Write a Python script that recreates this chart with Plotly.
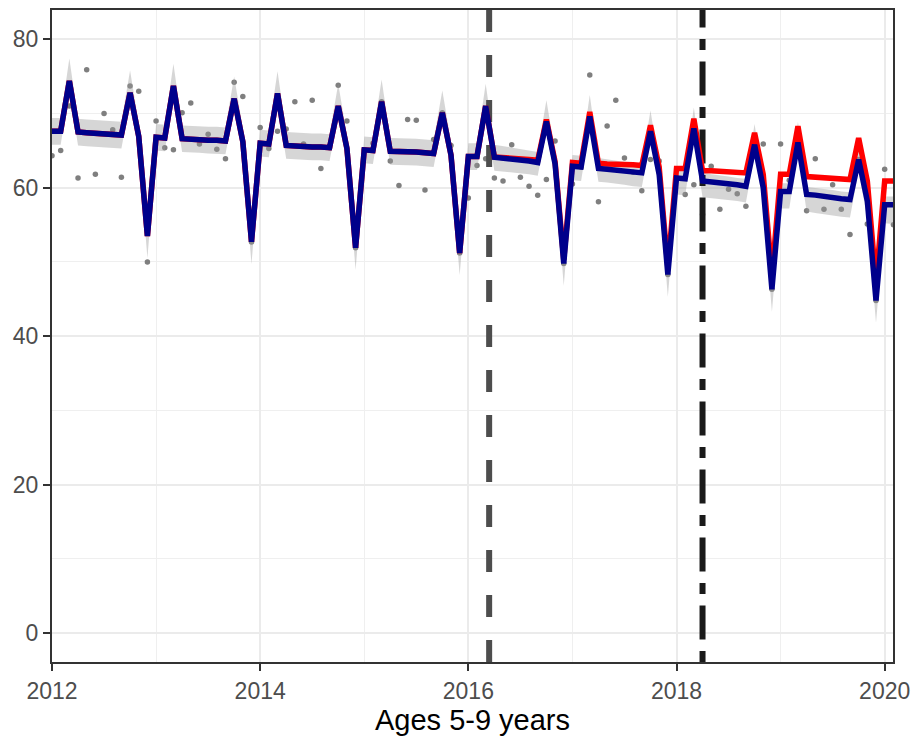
import plotly.graph_objects as go

# ---- data (monthly, Jan 2012 .. Feb 2020) ----
first_month = 2012.0

observed = [
    64.3, 65.0, 71.0, 61.3, 75.9, 61.8, 70.0, 67.8, 61.4, 73.7, 73.0, 50.0,
    69.0, 65.4, 65.1, 70.1, 71.4, 65.9, 67.2, 65.2, 63.9, 74.2, 72.3, 52.7,
    68.1, 65.3, 67.6, 67.9, 71.6, 65.9, 71.8, 62.6, 65.4, 73.8, 69.0, 51.9,
    65.1, 66.0, 71.6, 63.6, 60.3, 69.2, 69.1, 59.7, 66.5, 70.1, 65.7, 51.2,
    58.6, 63.0, 63.9, 61.3, 60.9, 65.8, 61.4, 60.2, 59.0, 61.1, 66.3, 49.8,
    60.5, 62.8, 75.2, 58.1, 68.3, 71.8, 64.0, 62.1, 59.6, 63.8, 63.6, 48.3,
    61.3, 59.1, 60.4, 56.4, 62.9, 57.1, 59.8, 59.2, 57.5, 65.8, 65.9, 46.3,
    65.9, 61.0, 66.1, 56.9, 63.9, 57.1, 60.4, 57.1, 53.7, 63.8, 55.1, 44.8,
    62.5, 55.0,
]

fitted = [
    67.6, 67.6, 74.4, 67.5, 67.4, 67.3, 67.2, 67.2, 67.1, 72.8, 66.9, 53.5,
    66.8, 66.7, 73.7, 66.6, 66.5, 66.5, 66.4, 66.4, 66.3, 72.0, 66.2, 52.7,
    66.0, 65.9, 72.7, 65.7, 65.6, 65.6, 65.5, 65.5, 65.4, 71.0, 65.3, 51.9,
    65.1, 65.0, 71.6, 64.9, 64.9, 64.8, 64.8, 64.7, 64.6, 70.1, 64.4, 51.2,
    64.2, 64.2, 71.0, 64.1, 64.0, 63.9, 63.7, 63.6, 63.4, 68.9, 63.2, 49.8,
    62.9, 62.8, 69.6, 62.6, 62.5, 62.4, 62.3, 62.1, 62.0, 67.6, 61.8, 48.3,
    61.3, 61.2, 68.0, 60.9, 60.8, 60.7, 60.5, 60.4, 60.2, 65.8, 60.0, 46.3,
    59.5, 59.5, 66.1, 59.1, 59.0, 58.8, 58.7, 58.5, 58.4, 63.8, 58.2, 44.8,
    57.7, 57.7,
]

counterfactual = [
    67.6, 67.6, 74.4, 67.5, 67.4, 67.3, 67.2, 67.2, 67.1, 72.8, 66.9, 53.5,
    66.8, 66.7, 73.7, 66.6, 66.5, 66.5, 66.4, 66.4, 66.3, 72.0, 66.2, 52.7,
    66.0, 65.9, 72.7, 65.7, 65.6, 65.6, 65.5, 65.5, 65.4, 71.0, 65.3, 51.9,
    65.1, 65.0, 71.6, 64.9, 64.9, 64.8, 64.8, 64.7, 64.6, 70.1, 64.4, 51.2,
    64.2, 64.2, 71.0, 64.15, 64.1, 64.0, 63.9, 63.8, 63.7, 69.2, 63.5, 50.3,
    63.4, 63.3, 70.2, 63.3, 63.2, 63.2, 63.1, 63.1, 63.0, 68.4, 62.8, 49.3,
    62.6, 62.6, 69.3, 62.3, 62.3, 62.2, 62.1, 62.1, 62.0, 67.4, 61.8, 48.2,
    61.8, 61.8, 68.3, 61.5, 61.4, 61.4, 61.3, 61.2, 61.1, 66.7, 60.9, 47.3,
    60.9, 60.9,
]

band_upper = [
    69.4, 69.4, 77.4, 69.3, 69.2, 69.1, 69.0, 69.0, 68.9, 75.8, 68.7, 54.7,
    68.6, 68.5, 76.7, 68.4, 68.3, 68.3, 68.2, 68.2, 68.1, 75.0, 68.0, 53.9,
    67.8, 67.7, 75.7, 67.5, 67.4, 67.4, 67.3, 67.3, 67.2, 74.0, 67.1, 53.1,
    66.9, 66.8, 74.6, 66.7, 66.7, 66.6, 66.6, 66.5, 66.4, 73.1, 66.2, 52.4,
    66.0, 66.0, 74.0, 65.8, 65.6, 65.4, 65.2, 65.0, 64.8, 71.8, 64.8, 51.0,
    64.4, 64.3, 72.5, 64.0, 63.8, 63.6, 63.5, 63.3, 63.2, 70.4, 63.1, 49.5,
    62.5, 62.4, 70.8, 62.0, 61.8, 61.7, 61.5, 61.3, 61.2, 68.6, 61.1, 47.6,
    60.6, 60.6, 68.9, 60.1, 60.0, 59.8, 59.7, 59.5, 59.4, 66.6, 59.3, 46.0,
    58.8, 58.8,
]

band_lower = [
    65.8, 65.8, 73.2, 65.7, 65.6, 65.5, 65.4, 65.4, 65.3, 71.6, 65.1, 50.5,
    65.0, 64.9, 72.5, 64.8, 64.7, 64.7, 64.6, 64.6, 64.5, 70.8, 64.4, 49.7,
    64.2, 64.1, 71.5, 63.9, 63.8, 63.8, 63.7, 63.7, 63.6, 69.8, 63.5, 48.9,
    63.3, 63.2, 70.4, 63.1, 63.1, 63.0, 63.0, 62.9, 62.8, 68.9, 62.6, 48.2,
    62.4, 62.4, 69.8, 62.3, 62.2, 62.0, 61.9, 61.8, 61.6, 67.6, 61.4, 46.8,
    61.0, 60.9, 68.3, 60.8, 60.7, 60.6, 60.4, 60.2, 60.1, 66.3, 59.9, 45.3,
    59.1, 59.0, 66.6, 58.7, 58.6, 58.5, 58.3, 58.2, 58.0, 64.4, 57.8, 43.3,
    57.2, 57.2, 64.7, 56.8, 56.6, 56.4, 56.3, 56.1, 56.0, 62.3, 55.8, 41.8,
    55.2, 55.1,
]

interventions = [2016.2, 2018.25]
intervention_styles = ["dash", "dotdash"]

x_ticks = [2012, 2014, 2016, 2018, 2020]
y_ticks = [0, 20, 40, 60, 80]
x_title = "Ages 5-9 years"

# ---- figure ----
x = [first_month + i / 12 for i in range(len(fitted))]
x_range = [2012.0, 2020.08]
y_range = [-3.92, 83.95]

FONT = "Liberation Sans, Arial, sans-serif"

fig = go.Figure()

fig.add_trace(go.Scatter(
    x=x, y=observed, mode="markers",
    marker=dict(color="#7F7F7F", size=5.5, line=dict(width=0)),
    showlegend=False, hoverinfo="skip"))

fig.add_trace(go.Scatter(
    x=x, y=band_lower, mode="lines", line=dict(width=0, color="rgba(0,0,0,0)"),
    showlegend=False, hoverinfo="skip"))
fig.add_trace(go.Scatter(
    x=x, y=band_upper, mode="lines", line=dict(width=0, color="rgba(0,0,0,0)"),
    fill="tonexty", fillcolor="rgba(153,153,153,0.4)",
    showlegend=False, hoverinfo="skip"))

dash_patterns = {"dash": "22px,23px", "dotdash": "11px,11.5px,34px,11.5px"}
dash_colors = {"dash": "#4D4D4D", "dotdash": "#1A1A1A"}
for xv, st in zip(interventions, intervention_styles):
    fig.add_trace(go.Scatter(
        x=[xv, xv], y=y_range, mode="lines",
        line=dict(color=dash_colors[st], width=6, dash=dash_patterns[st]),
        showlegend=False, hoverinfo="skip"))

fig.add_trace(go.Scatter(
    x=x, y=counterfactual, mode="lines",
    line=dict(color="#FF0000", width=5.5),
    showlegend=False, hoverinfo="skip"))
fig.add_trace(go.Scatter(
    x=x, y=fitted, mode="lines",
    line=dict(color="#00008B", width=5.5),
    showlegend=False, hoverinfo="skip"))

axis_common = dict(
    automargin=False,
    showline=True, mirror=True, linecolor="#333333", linewidth=2,
    ticks="outside", ticklen=7, tickwidth=2, tickcolor="#333333",
    tickfont=dict(family=FONT, size=23, color="#4D4D4D"),
    showgrid=True, gridcolor="#EBEBEB", gridwidth=2,
    zeroline=False,
)

fig.update_layout(
    width=916, height=736,
    margin=dict(l=52, r=23, t=10, b=74),
    paper_bgcolor="white", plot_bgcolor="white",
    xaxis=dict(
        range=x_range, tickmode="array", tickvals=x_ticks,
        ticktext=[str(t) for t in x_ticks],
        minor=dict(tickmode="linear", tick0=2013, dtick=2, showgrid=True,
                   gridcolor="#EFEFEF", gridwidth=1, ticks=""),
        title=dict(text=x_title, standoff=0,
                   font=dict(family=FONT, size=29, color="black")),
        **axis_common),
    yaxis=dict(
        range=y_range, tickmode="array", tickvals=y_ticks,
        ticktext=[str(t) for t in y_ticks],
        minor=dict(tickmode="linear", tick0=10, dtick=20, showgrid=True,
                   gridcolor="#EFEFEF", gridwidth=1, ticks=""),
        **axis_common),
)

fig.write_html(
    "out.html",
    config={"displayModeBar": False},
    post_script="document.body.style.margin='0';document.body.style.overflow='hidden';",
)
